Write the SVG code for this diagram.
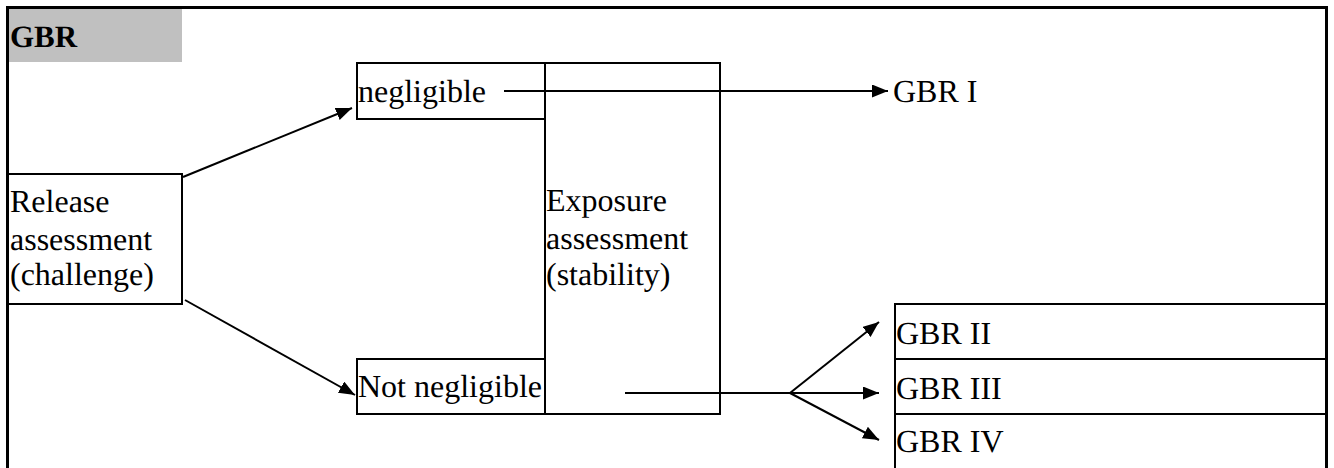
<svg xmlns="http://www.w3.org/2000/svg" width="1334" height="468" viewBox="0 0 1334 468">
  <style>
    .box { fill: none; stroke: #000; stroke-width: 2; }
    .frame { fill: none; stroke: #000; stroke-width: 3; }
    .conn { fill: none; stroke: #000; stroke-width: 2; }
    text { font-family: "Liberation Serif", "Times New Roman", serif; font-size: 32px; fill: #000; text-rendering: geometricPrecision; }
    .hdr { font-weight: bold; font-size: 31px; }
  </style>
  <defs>
    <marker id="arrow" markerUnits="userSpaceOnUse" markerWidth="17" markerHeight="14" refX="16" refY="6.5" orient="auto">
      <path d="M0,0 L16,6.5 L0,13 Z" fill="#000"/>
    </marker>
  </defs>

  <rect width="1334" height="468" fill="#fff"/>

  <!-- outer frame (open at the bottom) -->
  <path class="frame" d="M7.5,470 V7.5 H1326.5 V470"/>

  <!-- header band -->
  <g id="header">
    <rect x="9" y="9" width="173" height="53" fill="#c0c0c0"/>
    <text class="hdr" x="10" y="47">GBR</text>
  </g>

  <g id="release">
    <rect class="box" x="8" y="174" width="174" height="130"/>
    <text x="10" y="212">Release</text>
    <text x="10" y="250">assessment</text>
    <text x="10" y="285">(challenge)</text>
  </g>

  <g id="negligible">
    <rect class="box" x="357" y="63" width="188" height="56"/>
    <text x="358" y="102">negligible</text>
  </g>

  <g id="not-negligible">
    <rect class="box" x="357" y="359" width="188" height="55"/>
    <text x="358" y="397">Not negligible</text>
  </g>

  <g id="exposure">
    <rect class="box" x="545" y="63" width="175" height="351"/>
    <text x="546" y="211">Exposure</text>
    <text x="546" y="249">assessment</text>
    <text x="546" y="285">(stability)</text>
  </g>

  <g id="gbr1">
    <text x="893" y="102">GBR I</text>
  </g>

  <g id="gbr2">
    <path class="box" d="M895,470 V304 H1326"/>
    <text x="896" y="344">GBR II</text>
  </g>

  <g id="gbr3">
    <path class="box" d="M895,359 H1326"/>
    <text x="896" y="399">GBR III</text>
  </g>

  <g id="gbr4">
    <path class="box" d="M895,414 H1326"/>
    <text x="896" y="452">GBR IV</text>
  </g>

  <g id="connectors">
    <line class="conn" x1="183" y1="177" x2="352" y2="108" marker-end="url(#arrow)"/>
    <line class="conn" x1="185" y1="300" x2="355" y2="395" marker-end="url(#arrow)"/>
    <line class="conn" x1="504" y1="91" x2="888" y2="91" marker-end="url(#arrow)"/>
    <line class="conn" x1="625" y1="393" x2="790" y2="393"/>
    <line class="conn" x1="790" y1="393" x2="879" y2="322" marker-end="url(#arrow)"/>
    <line class="conn" x1="790" y1="393" x2="879" y2="393" marker-end="url(#arrow)"/>
    <line class="conn" x1="790" y1="393" x2="879" y2="440" marker-end="url(#arrow)"/>
  </g>
</svg>
